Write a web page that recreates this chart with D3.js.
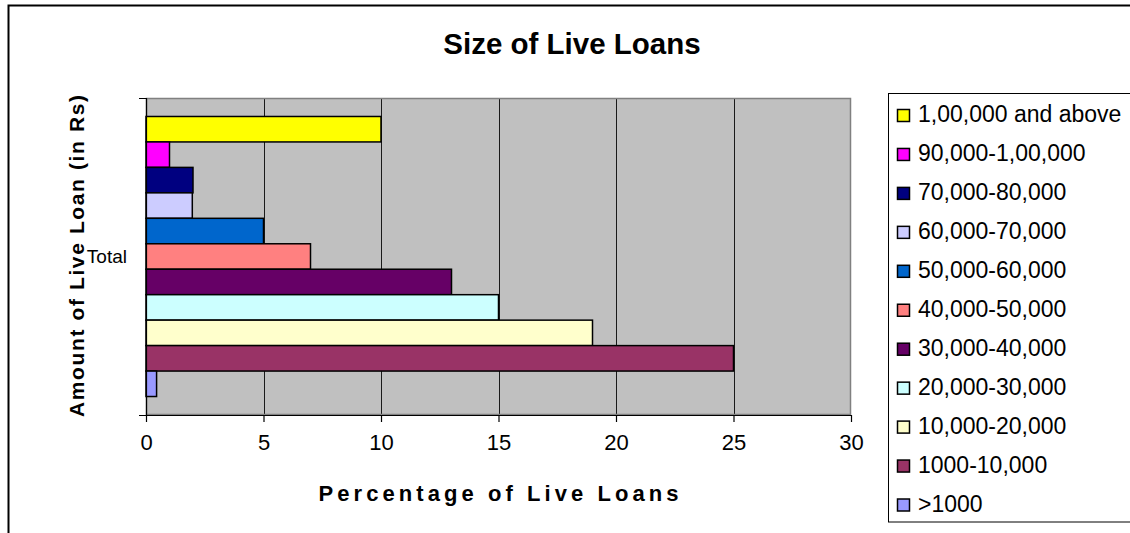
<!DOCTYPE html>
<html>
<head>
<meta charset="utf-8">
<script src="https://cdn.jsdelivr.net/npm/d3@7"></script>
<style>
  html, body { margin: 0; padding: 0; background: #fff; }
  svg { display: block; font-family: "Liberation Sans", Arial, sans-serif; }
</style>
</head>
<body>
<svg id="chart" width="1130" height="533"></svg>
<script>
// Chart data
const categories = ["Total"];
const seriesNames = [
  "1,00,000 and above", "90,000-1,00,000", "70,000-80,000", "60,000-70,000",
  "50,000-60,000", "40,000-50,000", "30,000-40,000", "20,000-30,000",
  "10,000-20,000", "1000-10,000", ">1000"
];
const seriesValues = [10, 1, 2, 1.97, 5, 7, 13, 15, 19, 25, 0.45];
const seriesColors = [
  "#FFFF00", "#FF00FF", "#000080", "#CCCCFF", "#0066CC", "#FF8080",
  "#660066", "#CCFFFF", "#FFFFCC", "#993366", "#9999FF"
];
const xTicks = [0, 5, 10, 15, 20, 25, 30];

const svg = d3.select("#chart");
const FONT = "Liberation Sans, Arial, sans-serif";

// Outer chart frame
svg.append("path")
  .attr("d", "M8.5,533 V5.5 H1130")
  .attr("fill", "none").attr("stroke", "#000").attr("stroke-width", 2);

const plot = { left: 146, right: 851, top: 98, bottom: 415 };

const x = d3.scaleLinear().domain([0, 30]).range([plot.left, plot.right]);
const y0 = d3.scaleBand().domain(categories)
  .range([plot.top, plot.bottom]).paddingOuter(0.066).paddingInner(0);
const y1 = d3.scaleBand().domain(seriesNames).range([0, y0.bandwidth()]);

// Plot background
svg.append("rect")
  .attr("x", plot.left).attr("y", plot.top)
  .attr("width", plot.right - plot.left).attr("height", plot.bottom - plot.top)
  .attr("fill", "#C0C0C0");

// Vertical gridlines
svg.append("g").selectAll("line")
  .data(xTicks.filter(d => d > 0 && d < 30))
  .join("line")
  .attr("x1", d => Math.round(x(d)) + 0.5).attr("x2", d => Math.round(x(d)) + 0.5)
  .attr("y1", plot.top).attr("y2", plot.bottom)
  .attr("stroke", "#1a1a1a").attr("stroke-width", 1);

// Plot border
svg.append("rect")
  .attr("x", plot.left + 0.5).attr("y", plot.top + 0.5)
  .attr("width", plot.right - plot.left - 1).attr("height", plot.bottom - plot.top - 1)
  .attr("fill", "none").attr("stroke", "#808080").attr("stroke-width", 1.5);

// Bars
const group = svg.append("g").selectAll("g")
  .data(categories).join("g")
  .attr("transform", c => `translate(0,${y0(c)})`);

group.selectAll("rect")
  .data(seriesNames.map((n, i) => ({ name: n, value: seriesValues[i], color: seriesColors[i] })))
  .join("rect")
  .attr("x", x(0))
  .attr("y", d => y1(d.name))
  .attr("width", d => x(d.value) - x(0))
  .attr("height", y1.bandwidth())
  .attr("fill", d => d.color)
  .attr("stroke", "#000").attr("stroke-width", 1.5);

// X axis
const xAxis = d3.axisBottom(x).tickValues(xTicks).tickSize(7).tickSizeOuter(0).tickPadding(12);
const gx = svg.append("g")
  .attr("transform", `translate(0,${plot.bottom})`)
  .call(xAxis);
gx.select(".domain").attr("stroke", "#000").attr("stroke-width", 1.2);
gx.selectAll(".tick line").attr("stroke", "#000").attr("stroke-width", 1.2);
gx.selectAll(".tick text").attr("font-size", 22).attr("fill", "#000")
  .attr("font-family", FONT);

// Y axis (category)
const yScaleAxis = d3.scaleBand().domain(categories).range([plot.top, plot.bottom]);
const yAxis = d3.axisLeft(yScaleAxis).tickSize(0).tickSizeOuter(7).tickPadding(19);
const gy = svg.append("g")
  .attr("transform", `translate(${plot.left},0)`)
  .call(yAxis);
gy.select(".domain").attr("stroke", "#000").attr("stroke-width", 1.2);
gy.selectAll(".tick text").attr("font-size", 19).attr("fill", "#000")
  .attr("font-family", FONT);

// Title
svg.append("text")
  .attr("x", 572).attr("y", 54)
  .attr("text-anchor", "middle")
  .attr("font-size", 29.5).attr("font-weight", "bold")
  .text("Size of Live Loans");

// X axis title
svg.append("text")
  .attr("x", (plot.left + plot.right) / 2).attr("y", 501)
  .attr("text-anchor", "middle")
  .attr("font-size", 22).attr("font-weight", "bold")
  .attr("textLength", 360).attr("lengthAdjust", "spacing")
  .text("Percentage of Live Loans");

// Y axis title
svg.append("text")
  .attr("transform", `translate(84,256) rotate(-90)`)
  .attr("text-anchor", "middle")
  .attr("font-size", 21).attr("font-weight", "bold")
  .attr("textLength", 322).attr("lengthAdjust", "spacing")
  .text("Amount of Live Loan (in Rs)");

// Legend
const legend = svg.append("g");
legend.append("rect")
  .attr("x", 888.5).attr("y", 93.5)
  .attr("width", 260).attr("height", 428.5)
  .attr("fill", "#fff").attr("stroke", "#000").attr("stroke-width", 1);

const ly = d3.scalePoint().domain(seriesNames).range([115, 504.5]);
const items = legend.selectAll("g.item")
  .data(seriesNames.map((n, i) => ({ name: n, color: seriesColors[i] })))
  .join("g").attr("class", "item")
  .attr("transform", d => `translate(0,${ly(d.name)})`);
items.append("rect")
  .attr("x", 897.5).attr("y", -5.5)
  .attr("width", 12).attr("height", 12)
  .attr("fill", d => d.color).attr("stroke", "#000").attr("stroke-width", 1.5);
items.append("text")
  .attr("x", 918).attr("y", 7)
  .attr("font-size", 23)
  .text(d => d.name);
</script>
</body>
</html>
